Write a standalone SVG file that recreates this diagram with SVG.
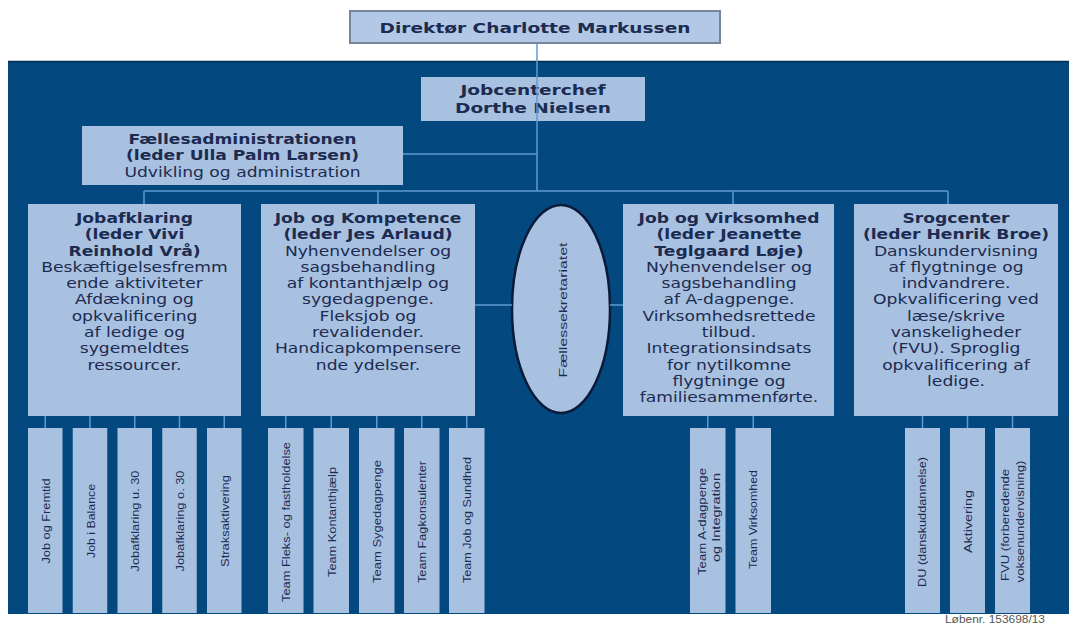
<svg xmlns="http://www.w3.org/2000/svg" width="1073" height="626" viewBox="0 0 1073 626">
<style>
.bg{fill:#03487e}
.box{fill:#a9c1e1}
.top{fill:#b3c8e6;stroke:#77849c;stroke-width:2}
.t{font-family:"DejaVu Sans",Verdana,sans-serif;font-size:13.5px;fill:#1c2b50;text-anchor:middle}
.tt{font-size:14.5px}
.b{font-weight:bold}
.rt{font-family:"Liberation Sans",Arial,sans-serif;font-size:11.5px;fill:#1c2b50;text-anchor:middle;dominant-baseline:central}
.ln{stroke:#5f9ad3;stroke-width:1.5;fill:none}
.foot{font-family:"Liberation Sans",Arial,sans-serif;font-size:10px;fill:#555;text-anchor:middle}
</style>
<rect width="1073" height="626" fill="#ffffff"/>
<rect class="bg" x="8" y="61" width="1061" height="553"/>
<line x1="8" y1="61.5" x2="1069" y2="61.5" stroke="#022c50" stroke-width="1.5"/>

<g id="direktor">
<rect class="top" x="350" y="11" width="370" height="32"/>
<g transform="translate(535,0) scale(1.28,1)"><text class="t tt b" x="0" y="33">Direktør Charlotte Markussen</text></g>
</g>

<g id="jobcenterchef">
<rect class="box" x="421" y="77" width="224" height="44"/>
<g transform="translate(533,0) scale(1.28,1)">
<text class="t tt b" x="0" y="95">Jobcenterchef</text>
<text class="t tt b" x="0" y="113">Dorthe Nielsen</text>
</g>
</g>

<g id="faellesadministrationen">
<rect class="box" x="82" y="126" width="321" height="59"/>
<g transform="translate(242.5,0) scale(1.27,1)">
<text class="t b" x="0" y="144">Fællesadministrationen</text>
<text class="t b" x="0" y="160">(leder Ulla Palm Larsen)</text>
<text class="t" x="0" y="177">Udvikling og administration</text>
</g>
</g>

<g id="jobafklaring">
<rect class="box" x="28" y="204" width="213" height="212"/>
<g transform="translate(134.5,0) scale(1.27,1)">
<text class="t b" x="0" y="223">Jobafklaring</text>
<text class="t b" x="0" y="239.3">(leder Vivi</text>
<text class="t b" x="0" y="255.6">Reinhold Vrå)</text>
<text class="t" x="0" y="271.9">Beskæftigelsesfremm</text>
<text class="t" x="0" y="288.2">ende aktiviteter</text>
<text class="t" x="0" y="304.5">Afdækning og</text>
<text class="t" x="0" y="320.8">opkvalificering</text>
<text class="t" x="0" y="337.1">af ledige og</text>
<text class="t" x="0" y="353.4">sygemeldtes</text>
<text class="t" x="0" y="369.7">ressourcer.</text>
</g>
</g>

<g id="jobogkompetence">
<rect class="box" x="261" y="204" width="214" height="212"/>
<g transform="translate(368,0) scale(1.27,1)">
<text class="t b" x="0" y="223">Job og Kompetence</text>
<text class="t b" x="0" y="239.3">(leder Jes Arlaud)</text>
<text class="t" x="0" y="255.6">Nyhenvendelser og</text>
<text class="t" x="0" y="271.9">sagsbehandling</text>
<text class="t" x="0" y="288.2">af kontanthjælp og</text>
<text class="t" x="0" y="304.5">sygedagpenge.</text>
<text class="t" x="0" y="320.8">Fleksjob og</text>
<text class="t" x="0" y="337.1">revalidender.</text>
<text class="t" x="0" y="353.4">Handicapkompensere</text>
<text class="t" x="0" y="369.7">nde ydelser.</text>
</g>
</g>

<g id="faellessekretariatet">
<ellipse cx="561" cy="309" rx="49" ry="104" fill="#a9c1e1" stroke="#0b1a38" stroke-width="2.5"/>
<text class="rt" transform="translate(563,310) rotate(-90)" x="0" y="0" font-size="12.5" textLength="135" lengthAdjust="spacingAndGlyphs">Fællessekretariatet</text>
</g>

<g id="jobogvirksomhed">
<rect class="box" x="623" y="204" width="211" height="212"/>
<g transform="translate(729,0) scale(1.27,1)">
<text class="t b" x="0" y="223">Job og Virksomhed</text>
<text class="t b" x="0" y="239.3">(leder Jeanette</text>
<text class="t b" x="0" y="255.6">Teglgaard Løje)</text>
<text class="t" x="0" y="271.9">Nyhenvendelser og</text>
<text class="t" x="0" y="288.2">sagsbehandling</text>
<text class="t" x="0" y="304.5">af A-dagpenge.</text>
<text class="t" x="0" y="320.8">Virksomhedsrettede</text>
<text class="t" x="0" y="337.1">tilbud.</text>
<text class="t" x="0" y="353.4">Integrationsindsats</text>
<text class="t" x="0" y="369.7">for nytilkomne</text>
<text class="t" x="0" y="386">flygtninge og</text>
<text class="t" x="0" y="402.3">familiesammenførte.</text>
</g>
</g>

<g id="srogcenter">
<rect class="box" x="854" y="204" width="204" height="212"/>
<g transform="translate(956,0) scale(1.27,1)">
<text class="t b" x="0" y="223">Srogcenter</text>
<text class="t b" x="0" y="239.3">(leder Henrik Broe)</text>
<text class="t" x="0" y="255.6">Danskundervisning</text>
<text class="t" x="0" y="271.9">af flygtninge og</text>
<text class="t" x="0" y="288.2">indvandrere.</text>
<text class="t" x="0" y="304.5">Opkvalificering ved</text>
<text class="t" x="0" y="320.8">læse/skrive</text>
<text class="t" x="0" y="337.1">vanskeligheder</text>
<text class="t" x="0" y="353.4">(FVU). Sproglig</text>
<text class="t" x="0" y="369.7">opkvalificering af</text>
<text class="t" x="0" y="386">ledige.</text>
</g>
</g>

<g id="team-job-og-fremtid"><rect class="box" x="28" y="428" width="34.5" height="185"/><text class="rt" transform="translate(46,521) rotate(-90)" textLength="85" lengthAdjust="spacingAndGlyphs">Job og Fremtid</text></g>
<g id="team-job-i-balance"><rect class="box" x="72.75" y="428" width="34.5" height="185"/><text class="rt" transform="translate(90.5,521) rotate(-90)" textLength="74" lengthAdjust="spacingAndGlyphs">Job i Balance</text></g>
<g id="team-jobafklaring-u30"><rect class="box" x="117.5" y="428" width="34.5" height="185"/><text class="rt" transform="translate(135.25,521) rotate(-90)" textLength="101" lengthAdjust="spacingAndGlyphs">Jobafklaring u. 30</text></g>
<g id="team-jobafklaring-o30"><rect class="box" x="162.25" y="428" width="34.5" height="185"/><text class="rt" transform="translate(180,521) rotate(-90)" textLength="101" lengthAdjust="spacingAndGlyphs">Jobafklaring o. 30</text></g>
<g id="team-straksaktivering"><rect class="box" x="207" y="428" width="34.5" height="185"/><text class="rt" transform="translate(224.75,521) rotate(-90)" textLength="92" lengthAdjust="spacingAndGlyphs">Straksaktivering</text></g>

<g id="team-fleks"><rect class="box" x="268" y="428" width="35.5" height="185"/><text class="rt" transform="translate(286.25,522) rotate(-90)" textLength="160" lengthAdjust="spacingAndGlyphs">Team Fleks- og fastholdelse</text></g>
<g id="team-kontanthjaelp"><rect class="box" x="313.5" y="428" width="35.5" height="185"/><text class="rt" transform="translate(331.75,522) rotate(-90)" textLength="110" lengthAdjust="spacingAndGlyphs">Team Kontanthjælp</text></g>
<g id="team-sygedagpenge"><rect class="box" x="359" y="428" width="35.5" height="185"/><text class="rt" transform="translate(377.25,521.5) rotate(-90)" textLength="123" lengthAdjust="spacingAndGlyphs">Team Sygedagpenge</text></g>
<g id="team-fagkonsulenter"><rect class="box" x="404" y="428" width="35.5" height="185"/><text class="rt" transform="translate(422.25,522) rotate(-90)" textLength="122" lengthAdjust="spacingAndGlyphs">Team Fagkonsulenter</text></g>
<g id="team-job-og-sundhed"><rect class="box" x="449" y="428" width="35.5" height="185"/><text class="rt" transform="translate(467.25,520) rotate(-90)" textLength="126" lengthAdjust="spacingAndGlyphs">Team Job og Sundhed</text></g>

<g id="team-a-dagpenge"><rect class="box" x="690" y="428" width="35.5" height="185"/>
<text class="rt" transform="translate(701.5,521.5) rotate(-90)" textLength="107" lengthAdjust="spacingAndGlyphs">Team A-dagpenge</text>
<text class="rt" transform="translate(715.5,517.5) rotate(-90)" textLength="89" lengthAdjust="spacingAndGlyphs">og Integration</text></g>
<g id="team-virksomhed"><rect class="box" x="735.5" y="428" width="35.5" height="185"/><text class="rt" transform="translate(753,519.5) rotate(-90)" textLength="99" lengthAdjust="spacingAndGlyphs">Team Virksomhed</text></g>

<g id="team-du"><rect class="box" x="905" y="428" width="35" height="185"/><text class="rt" transform="translate(922,522) rotate(-90)" textLength="130" lengthAdjust="spacingAndGlyphs">DU (danskuddannelse)</text></g>
<g id="team-aktivering"><rect class="box" x="950" y="428" width="35" height="185"/><text class="rt" transform="translate(967.5,521.5) rotate(-90)" textLength="63" lengthAdjust="spacingAndGlyphs">Aktivering</text></g>
<g id="team-fvu"><rect class="box" x="995" y="428" width="35" height="185"/>
<text class="rt" transform="translate(1005,525) rotate(-90)" textLength="112" lengthAdjust="spacingAndGlyphs">FVU (forberedende</text>
<text class="rt" transform="translate(1019.5,521.5) rotate(-90)" textLength="122" lengthAdjust="spacingAndGlyphs">voksenundervisning)</text></g>

<g id="connectors" class="ln">
<line x1="537" y1="43" x2="537" y2="191"/>
<line x1="403" y1="154" x2="537" y2="154"/>
<line x1="144" y1="191" x2="948" y2="191"/>
<line x1="144" y1="191" x2="144" y2="204"/>
<line x1="378" y1="191" x2="378" y2="204"/>
<line x1="733" y1="191" x2="733" y2="204"/>
<line x1="948" y1="191" x2="948" y2="204"/>
<line x1="475" y1="305" x2="512" y2="305"/>
<line x1="610" y1="305" x2="623" y2="305"/>
<line x1="45.25" y1="416" x2="45.25" y2="428"/>
<line x1="90" y1="416" x2="90" y2="428"/>
<line x1="134.75" y1="416" x2="134.75" y2="428"/>
<line x1="179.5" y1="416" x2="179.5" y2="428"/>
<line x1="224.25" y1="416" x2="224.25" y2="428"/>
<line x1="285.75" y1="416" x2="285.75" y2="428"/>
<line x1="331.25" y1="416" x2="331.25" y2="428"/>
<line x1="376.75" y1="416" x2="376.75" y2="428"/>
<line x1="421.75" y1="416" x2="421.75" y2="428"/>
<line x1="466.75" y1="416" x2="466.75" y2="428"/>
<line x1="707.75" y1="416" x2="707.75" y2="428"/>
<line x1="753.25" y1="416" x2="753.25" y2="428"/>
<line x1="922.5" y1="416" x2="922.5" y2="428"/>
<line x1="967.5" y1="416" x2="967.5" y2="428"/>
<line x1="1012.5" y1="416" x2="1012.5" y2="428"/>
</g>

<text class="foot" x="995" y="623" textLength="100" lengthAdjust="spacingAndGlyphs">Løbenr. 153698/13</text>
</svg>
